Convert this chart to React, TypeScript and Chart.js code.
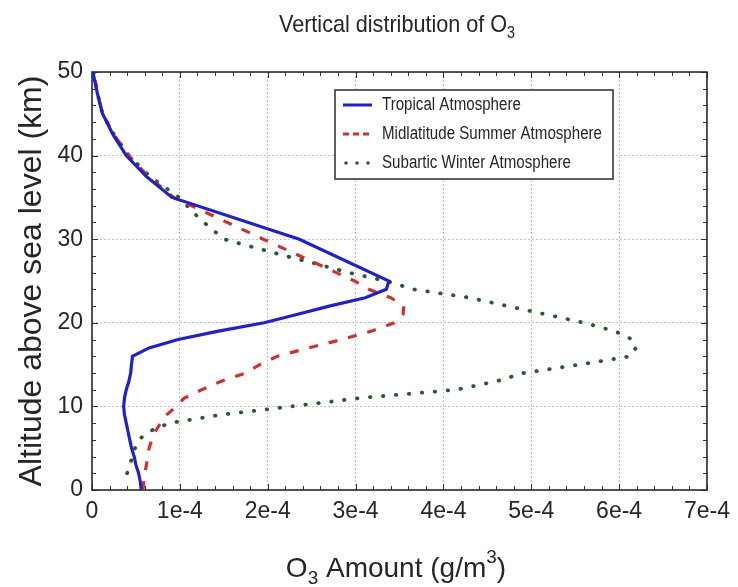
import React, { useEffect, useRef } from "react";
import { Chart, registerables } from "chart.js";

Chart.register(...registerables);

// O3 amounts are stored in units of 1e-4 g/m^3; altitudes in km
const altitudeTropical = [0, 1, 2, 3, 4, 5, 6, 7, 8, 9, 10, 11, 12, 13, 14, 15, 16, 17, 18, 19, 20, 21, 22, 23, 24, 25, 30, 35, 37.5, 40, 42.5, 45, 47.5, 50];
const o3Tropical = [0.56, 0.55, 0.53, 0.5, 0.48, 0.45, 0.43, 0.41, 0.39, 0.37, 0.36, 0.37, 0.39, 0.42, 0.44, 0.45, 0.46, 0.65, 0.98, 1.44, 1.96, 2.33, 2.7, 3.11, 3.35, 3.38, 2.36, 0.91, 0.62, 0.39, 0.24, 0.12, 0.06, 0.01];

const altitudeMidSummer = [0, 1, 2, 3, 4, 5, 6, 7, 8, 9, 10, 11, 12, 13, 14, 15, 16, 17, 18, 19, 20, 21, 22, 23, 24, 25, 30, 35, 37.5, 40, 42.5, 45, 47.5, 50];
const o3MidSummer = [0.58, 0.59, 0.6, 0.62, 0.63, 0.65, 0.68, 0.72, 0.78, 0.85, 0.96, 1.05, 1.25, 1.47, 1.75, 1.91, 2.11, 2.47, 2.84, 3.18, 3.44, 3.54, 3.55, 3.4, 3.15, 2.99, 1.95, 0.93, 0.64, 0.42, 0.25, 0.12, 0.06, 0.02];

const altitudeSubarcticWinter = [2, 3, 4, 5, 6, 7, 8, 9, 10, 11, 12, 13, 14, 15, 16, 17, 18, 19, 20, 21, 22, 23, 24, 25, 26, 27, 28, 29, 30, 32.5, 35, 37.5, 40, 42.5, 45, 47.5, 50];
const o3SubarcticWinter = [0.4, 0.43, 0.46, 0.49, 0.53, 0.65, 0.88, 1.47, 2.27, 3.05, 4.15, 4.6, 4.92, 5.55, 6.13, 6.19, 6.15, 5.95, 5.6, 5.17, 4.73, 4.3, 3.66, 3.35, 2.92, 2.57, 2.2, 1.85, 1.5, 1.22, 0.99, 0.66, 0.42, 0.25, 0.12, 0.06, 0.02];

const seriesNames = ["Tropical Atmosphere", "Midlatitude Summer Atmosphere", "Subartic Winter Atmosphere"];
const seriesColors = ["#1f22c4", "#d23030", "#2b5a30"];

const xTickLabels = ["0", "1e-4", "2e-4", "3e-4", "4e-4", "5e-4", "6e-4", "7e-4"];
const yTickLabels = ["0", "10", "20", "30", "40", "50"];

const FONT = "'Liberation Sans', Arial, sans-serif";
const TEXT = "#262626";

function toPoints(xs: number[], ys: number[]) {
  return xs.map((x, i) => ({ x, y: ys[i] }));
}

// draw text condensed horizontally (the reference uses a narrow face)
function narrowText(ctx: any, text: string, x: number, y: number, sx: number) {
  ctx.save();
  ctx.translate(x, y);
  ctx.scale(sx, 1);
  ctx.fillText(text, 0, 0);
  ctx.restore();
}

const decorPlugin = {
  id: "decor",
  beforeDraw(chart: any) {
    const { ctx, width, height } = chart;
    ctx.save();
    ctx.fillStyle = "#ffffff";
    ctx.fillRect(0, 0, width, height);
    ctx.restore();
  },
  beforeDatasetsDraw(chart: any) {
    const { ctx, chartArea: a, scales } = chart;
    const xs = scales.x;
    const ys = scales.y;
    ctx.save();
    ctx.strokeStyle = "#333";
    ctx.lineWidth = 1;
    for (let i = 0; i <= 35; i++) {
      const v = i * 0.2;
      const px = Math.round(xs.getPixelForValue(v)) + 0.5;
      const len = i % 5 === 0 ? 6 : 4;
      ctx.beginPath();
      ctx.moveTo(px, a.bottom);
      ctx.lineTo(px, a.bottom - len);
      ctx.moveTo(px, a.top);
      ctx.lineTo(px, a.top + len);
      ctx.stroke();
    }
    for (let i = 0; i <= 25; i++) {
      const v = i * 2;
      const py = Math.round(ys.getPixelForValue(v)) + 0.5;
      const len = v % 10 === 0 ? 6 : 4;
      ctx.beginPath();
      ctx.moveTo(a.left, py);
      ctx.lineTo(a.left + len, py);
      ctx.moveTo(a.right, py);
      ctx.lineTo(a.right - len, py);
      ctx.stroke();
    }
    ctx.lineWidth = 1.6;
    ctx.strokeStyle = "#2a2a2a";
    ctx.strokeRect(a.left, a.top, a.right - a.left, a.bottom - a.top);
    ctx.restore();
  },
  afterDraw(chart: any) {
    const { ctx } = chart;
    ctx.save();
    ctx.fillStyle = TEXT;
    ctx.textBaseline = "alphabetic";
    ctx.textAlign = "left";

    // Title with subscript
    const tScale = 0.9;
    ctx.font = `24px ${FONT}`;
    const t1 = "Vertical distribution of O";
    const w1 = ctx.measureText(t1).width * tScale;
    ctx.font = `16px ${FONT}`;
    const w2 = ctx.measureText("3").width * tScale;
    const sx = 397 - (w1 + w2) / 2;
    ctx.font = `24px ${FONT}`;
    narrowText(ctx, t1, sx, 32, tScale);
    ctx.font = `16px ${FONT}`;
    narrowText(ctx, "3", sx + w1, 38, tScale);

    // X axis title: O3 Amount (g/m3)
    const big = `28px ${FONT}`;
    const small = `19px ${FONT}`;
    const parts = [
      { t: "O", f: big, dy: 0 },
      { t: "3", f: small, dy: 7 },
      { t: " Amount (g/m", f: big, dy: 0 },
      { t: "3", f: small, dy: -14 },
      { t: ")", f: big, dy: 0 },
    ];
    let total = 0;
    const widths = parts.map((p) => {
      ctx.font = p.f;
      const w = ctx.measureText(p.t).width;
      total += w;
      return w;
    });
    let cx = 396 - total / 2;
    parts.forEach((p, i) => {
      ctx.font = p.f;
      ctx.fillText(p.t, cx, 577 + p.dy);
      cx += widths[i];
    });

    // Y axis title
    ctx.save();
    ctx.translate(41, 281);
    ctx.rotate(-Math.PI / 2);
    ctx.textAlign = "center";
    ctx.font = `32px ${FONT}`;
    ctx.fillText("Altitude above sea level (km)", 0, 0);
    ctx.restore();

    // Legend box
    const bx = 335, by = 90, bw = 278, bh = 89;
    ctx.fillStyle = "#ffffff";
    ctx.fillRect(bx, by, bw, bh);
    ctx.strokeStyle = "#2a2a2a";
    ctx.lineWidth = 1.5;
    ctx.strokeRect(bx, by, bw, bh);

    const legendFont = `18px ${FONT}`;
    ctx.font = legendFont;
    const target = 220;
    const lScale = target / ctx.measureText(seriesNames[1]).width;
    const rows = [105, 134, 163];
    rows.forEach((ry, i) => {
      ctx.save();
      ctx.strokeStyle = seriesColors[i];
      ctx.lineWidth = 3;
      ctx.beginPath();
      if (i === 0) {
        ctx.moveTo(343, ry);
        ctx.lineTo(372, ry);
        ctx.stroke();
      } else if (i === 1) {
        ctx.setLineDash([6, 4]);
        ctx.moveTo(343, ry);
        ctx.lineTo(373, ry);
        ctx.stroke();
      } else {
        ctx.fillStyle = seriesColors[i];
        [346, 357, 368].forEach((dx) => {
          ctx.beginPath();
          ctx.arc(dx, ry, 1.8, 0, Math.PI * 2);
          ctx.fill();
        });
      }
      ctx.restore();
      ctx.fillStyle = TEXT;
      ctx.font = legendFont;
      ctx.textBaseline = "middle";
      narrowText(ctx, seriesNames[i], 382, ry, lScale);
    });
    ctx.restore();
  },
};

export default function App() {
  const canvasRef = useRef<HTMLCanvasElement | null>(null);

  useEffect(() => {
    document.body.style.margin = "0";
    const canvas = canvasRef.current;
    if (!canvas) return;
    const chart = new Chart(canvas, {
      type: "scatter",
      data: {
        datasets: [
          {
            label: seriesNames[0],
            data: toPoints(o3Tropical, altitudeTropical),
            showLine: true,
            borderColor: seriesColors[0],
            backgroundColor: seriesColors[0],
            borderWidth: 3.2,
            pointRadius: 0,
            fill: false,
          },
          {
            label: seriesNames[1],
            data: toPoints(o3MidSummer, altitudeMidSummer),
            showLine: true,
            borderColor: seriesColors[1],
            backgroundColor: seriesColors[1],
            borderWidth: 3.2,
            borderDash: [9, 11],
            pointRadius: 0,
            fill: false,
          },
          {
            label: seriesNames[2],
            data: toPoints(o3SubarcticWinter, altitudeSubarcticWinter),
            showLine: true,
            borderColor: seriesColors[2],
            backgroundColor: seriesColors[2],
            borderWidth: 3.8,
            borderDash: [0.5, 12.5],
            borderCapStyle: "round",
            pointRadius: 0,
            fill: false,
          },
        ],
      },
      options: {
        animation: false,
        responsive: false,
        maintainAspectRatio: false,
        layout: { padding: { top: 72, right: 23, left: 0, bottom: 0 } },
        plugins: {
          legend: { display: false },
          title: { display: false },
          tooltip: { enabled: false },
        },
        scales: {
          x: {
            type: "linear",
            min: 0,
            max: 7,
            ticks: {
              stepSize: 1,
              autoSkip: false,
              maxRotation: 0,
              padding: 8,
              color: TEXT,
              font: { family: FONT, size: 23 },
              callback: (v: any) => xTickLabels[Math.round(Number(v))] ?? "",
            },
            grid: { color: "#c4c4c4", lineWidth: 1, drawTicks: false },
            border: { display: false, dash: [2, 2] },
            afterFit: (s: any) => {
              s.height = 97;
            },
          },
          y: {
            type: "linear",
            min: 0,
            max: 50,
            ticks: {
              stepSize: 10,
              padding: 9,
              color: TEXT,
              font: { family: FONT, size: 23 },
              callback: (v: any) => yTickLabels[Math.round(Number(v) / 10)] ?? "",
            },
            grid: { color: "#c4c4c4", lineWidth: 1, drawTicks: false },
            border: { display: false, dash: [2, 2] },
            afterFit: (s: any) => {
              s.width = 92;
            },
          },
        },
      } as any,
      plugins: [decorPlugin],
    });
    return () => chart.destroy();
  }, []);

  return (
    <div style={{ width: 738, height: 587 }}>
      <canvas ref={canvasRef} width={738} height={587} style={{ display: "block", width: 738, height: 587 }} />
    </div>
  );
}
